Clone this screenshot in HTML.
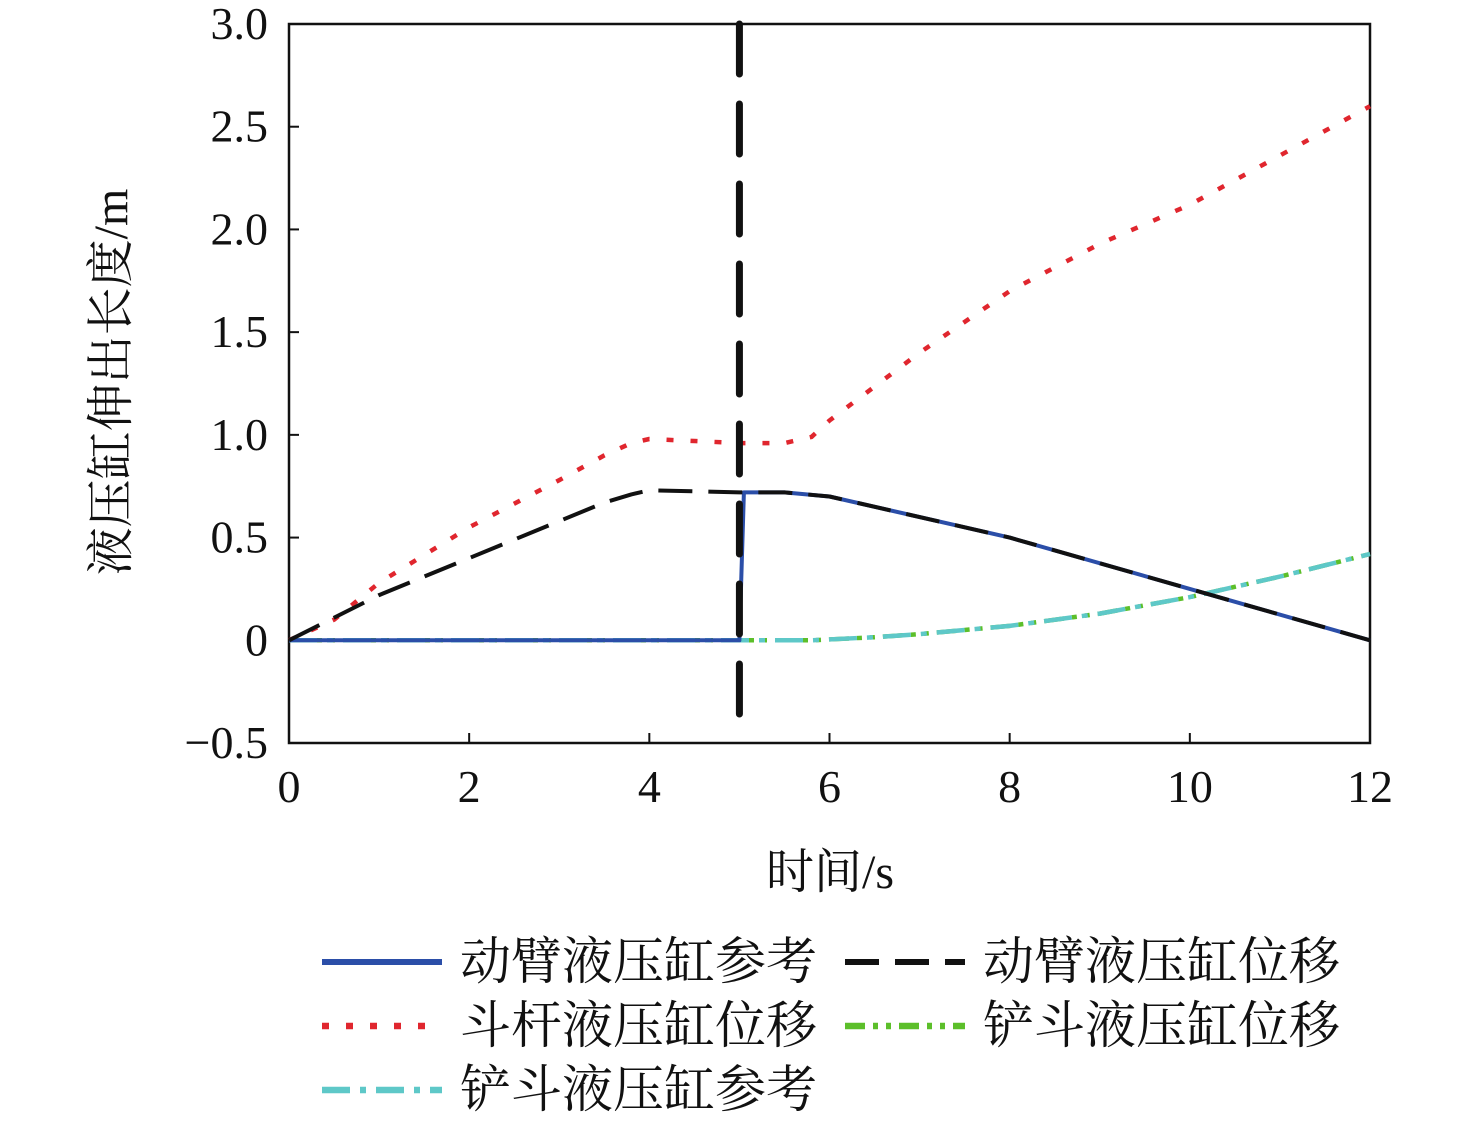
<!DOCTYPE html>
<html><head><meta charset="utf-8"><style>
body{margin:0;background:#fff;}
svg text{font-family:"Liberation Serif","Noto Serif CJK SC",serif;fill:#111;}
</style></head><body>
<svg id="chart" width="1476" height="1126" viewBox="0 0 1476 1126" xmlns="http://www.w3.org/2000/svg">
<g id="axes"></g><g id="series"></g><g id="legend"></g>
</svg>
<script>
const xTicks=[0,2,4,6,8,10,12];
const yTicks=[-0.5,0,0.5,1.0,1.5,2.0,2.5,3.0];
const yTickLabels=["\u22120.5","0","0.5","1.0","1.5","2.0","2.5","3.0"];
const redT=[0,0.5,1,2,3,3.5,3.8,4,4.5,5,5.5,5.8,6,7,8,9,10,11,12];
const redV=[0,0.1,0.28,0.55,0.78,0.9,0.96,0.98,0.97,0.96,0.96,0.99,1.07,1.4,1.70,1.93,2.12,2.36,2.6];
const blackT=[0,1,2,3,3.5,3.8,4,5,5.5,6,8,10,12];
const blackV=[0,0.22,0.4,0.58,0.67,0.71,0.73,0.72,0.72,0.70,0.5,0.25,0];
const blueT=[0,5,5.05,5.5,6,8,10,12];
const blueV=[0,0,0.72,0.72,0.70,0.5,0.25,0];
const bucketT=[0,5.8,6.5,7,8,9,10,11,12];
const bucketV=[0,0,0.015,0.03,0.07,0.13,0.21,0.31,0.42];
const vlineT=5;
const X0=289,X1=1370,Y0=743,Y1=24;
const xs=t=>X0+(t-0)/12*(X1-X0);
const ys=v=>Y0-(v+0.5)/3.5*(Y0-Y1);
const NS="http://www.w3.org/2000/svg";
function mk(tag,attrs,parent){const e=document.createElementNS(NS,tag);for(const k in attrs)e.setAttribute(k,attrs[k]);parent.appendChild(e);return e;}
const axes=document.getElementById('axes'),ser=document.getElementById('series'),leg=document.getElementById('legend');
let frame=mk('rect',{x:X0,y:Y1,width:X1-X0,height:Y0-Y1,fill:'none',stroke:'#111','stroke-width':2.5},axes);


xTicks.forEach(t=>{
 let l=mk('line',{x1:xs(t),x2:xs(t),y1:Y0,y2:Y0-10,stroke:'#111','stroke-width':2},axes);
 
 
 let tx=mk('text',{x:xs(t),y:802,'font-size':46,'text-anchor':'middle'},axes);tx.textContent=t;
 
 
});
yTicks.forEach((v,i)=>{
 let l=mk('line',{x1:X0,x2:X0+10,y1:ys(v),y2:ys(v),stroke:'#111','stroke-width':2},axes);
 
 
 let tx=mk('text',{x:268,y:ys(v)+15,'font-size':46,'text-anchor':'end'},axes);tx.textContent=yTickLabels[i];
 
 
});
let xt=mk('text',{x:830,y:888,'font-size':48,'text-anchor':'middle'},axes);xt.textContent='时间/s';


let yt=mk('text',{x:0,y:0,'font-size':48,'text-anchor':'middle',transform:'translate(127,382) rotate(-90)'},axes);yt.textContent='液压缸伸出长度/m';


function path(T,V){return T.map((t,i)=>(i?'L':'M')+xs(t).toFixed(1)+','+ys(V[i]).toFixed(1)).join(' ');}
const styles={
 blue:{stroke:'#2b4ea8',w:4,dash:''},
 black:{stroke:'#111',w:4,dash:'34,16'},
 red:{stroke:'#e0262e',w:4.5,dash:'7,17'},
 green:{stroke:'#5cbf2a',w:4.5,dash:'20,8,5,8,5,8'},
 cyan:{stroke:'#5ec8c8',w:4.5,dash:'28,10,6,10'}
};
function line(d,s,name){let p=mk('path',{d:d,fill:'none',stroke:s.stroke,'stroke-width':s.w,'stroke-dasharray':s.dash,'stroke-linejoin':'round'},ser);
 
 }
line(path(redT,redV),styles.red,'series-arm-displacement');
line(path(bucketT,bucketV),styles.green,'series-bucket-displacement');
line(path(bucketT,bucketV),styles.cyan,'series-bucket-reference');
line(path(blueT,blueV),styles.blue,'series-boom-reference');
line(path(blackT,blackV),styles.black,'series-boom-displacement');
let vl=mk('line',{x1:xs(vlineT),x2:xs(vlineT),y1:ys(3.0),y2:ys(-0.5),stroke:'#111','stroke-width':7,'stroke-dasharray':'50,30','stroke-linecap':'round'},ser);


const legItems=[
 [322,962,styles.blue,'动臂液压缸参考'],[845,962,styles.black,'动臂液压缸位移'],
 [322,1026,styles.red,'斗杆液压缸位移'],[845,1026,styles.green,'铲斗液压缸位移'],
 [322,1090,styles.cyan,'铲斗液压缸参考']];
legItems.forEach(([x,y,s,txt])=>{
 let g=mk('g',{},leg);
 
 
 mk('line',{x1:x,x2:x+120,y1:y,y2:y,stroke:s.stroke,'stroke-width':s.w+2,'stroke-dasharray':s.dash},g);
 let t=mk('text',{x:x+138,y:y+17,'font-size':51},g);t.textContent=txt;
});
</script>
</body></html>
